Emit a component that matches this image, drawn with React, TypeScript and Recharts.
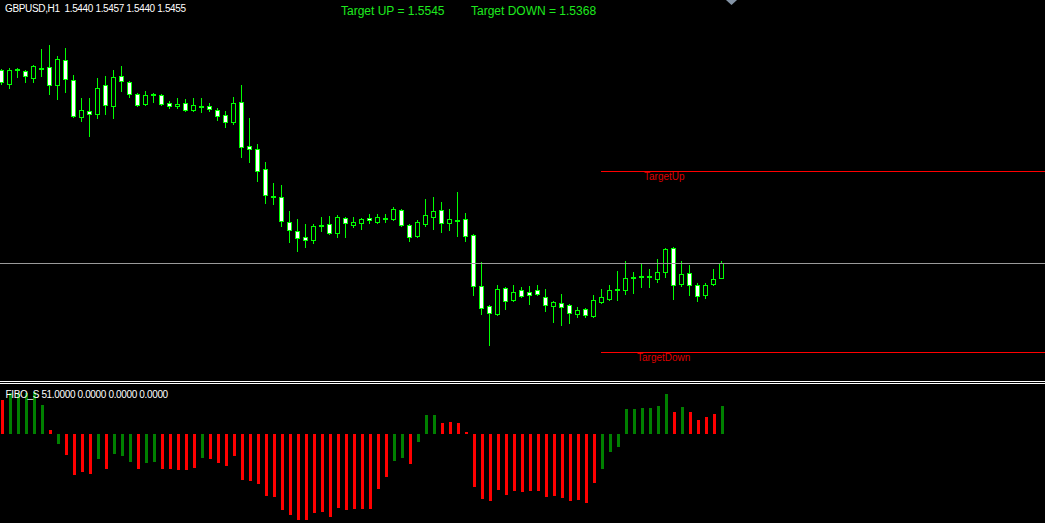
import React from 'react';
import { ComposedChart, Bar, XAxis, YAxis, ReferenceLine } from 'recharts';

// GBPUSD H1 candles, oldest first
const opens = [
  1.5643, 1.5630, 1.5643, 1.5642, 1.5635, 1.5644, 1.5646, 1.5629, 1.5653, 1.5633,
  1.5597, 1.5603, 1.5600, 1.5629, 1.5608, 1.5637, 1.5631, 1.5620, 1.5610, 1.5620,
  1.5619, 1.5611, 1.5608, 1.5611, 1.5604, 1.5607, 1.5608, 1.5604, 1.5599, 1.5592,
  1.5612, 1.5569, 1.5566, 1.5547, 1.5520, 1.5519, 1.5495, 1.5486, 1.5480, 1.5477,
  1.5492, 1.5493, 1.5484, 1.5499, 1.5492, 1.5494, 1.5499, 1.5495, 1.5498, 1.5498,
  1.5507, 1.5492, 1.5481, 1.5493, 1.5500, 1.5507, 1.5494, 1.5497, 1.5498, 1.5482,
  1.5432, 1.5413, 1.5405, 1.5430, 1.5419, 1.5428, 1.5427, 1.5428, 1.5422, 1.5413,
  1.5416, 1.5414, 1.5405, 1.5410, 1.5403, 1.5417, 1.5420, 1.5428, 1.5428, 1.5440,
  1.5441, 1.5442, 1.5439, 1.5446, 1.5469, 1.5434, 1.5445, 1.5433, 1.5424, 1.5434,
  1.5440,
];
const highs = [
  1.5644, 1.5645, 1.5645, 1.5643, 1.5648, 1.5664, 1.5668, 1.5657, 1.5665, 1.5638,
  1.5616, 1.5616, 1.5635, 1.5637, 1.5643, 1.5647, 1.5632, 1.5621, 1.5623, 1.5621,
  1.5620, 1.5613, 1.5616, 1.5615, 1.5616, 1.5616, 1.5611, 1.5606, 1.5603, 1.5617,
  1.5629, 1.5596, 1.5571, 1.5553, 1.5533, 1.5531, 1.5506, 1.5498, 1.5493, 1.5493,
  1.5500, 1.5501, 1.5502, 1.5500, 1.5500, 1.5499, 1.5503, 1.5503, 1.5503, 1.5509,
  1.5508, 1.5493, 1.5497, 1.5517, 1.5519, 1.5514, 1.5508, 1.5524, 1.5504, 1.5483,
  1.5456, 1.5414, 1.5433, 1.5431, 1.5433, 1.5431, 1.5432, 1.5433, 1.5429, 1.5418,
  1.5425, 1.5415, 1.5412, 1.5411, 1.5424, 1.5429, 1.5433, 1.5447, 1.5457, 1.5446,
  1.5454, 1.5449, 1.5459, 1.5469, 1.5470, 1.5457, 1.5453, 1.5435, 1.5435, 1.5449,
  1.5457,
];
const lows = [
  1.5630, 1.5626, 1.5636, 1.5631, 1.5631, 1.5637, 1.5620, 1.5615, 1.5622, 1.5597,
  1.5593, 1.5579, 1.5596, 1.5600, 1.5596, 1.5623, 1.5617, 1.5608, 1.5609, 1.5612,
  1.5609, 1.5606, 1.5606, 1.5603, 1.5603, 1.5602, 1.5603, 1.5594, 1.5588, 1.5590,
  1.5558, 1.5553, 1.5535, 1.5513, 1.5512, 1.5491, 1.5475, 1.5467, 1.5470, 1.5474,
  1.5486, 1.5483, 1.5480, 1.5480, 1.5490, 1.5488, 1.5494, 1.5494, 1.5495, 1.5497,
  1.5491, 1.5476, 1.5480, 1.5491, 1.5488, 1.5485, 1.5487, 1.5481, 1.5476, 1.5424,
  1.5405, 1.5375, 1.5404, 1.5410, 1.5418, 1.5422, 1.5415, 1.5424, 1.5408, 1.5397,
  1.5394, 1.5396, 1.5402, 1.5402, 1.5402, 1.5416, 1.5419, 1.5419, 1.5425, 1.5426,
  1.5431, 1.5431, 1.5436, 1.5441, 1.5420, 1.5432, 1.5424, 1.5418, 1.5421, 1.5433,
  1.5440,
];
const closes = [
  1.5631, 1.5643, 1.5644, 1.5637, 1.5647, 1.5645, 1.5629, 1.5654, 1.5634, 1.5598,
  1.5604, 1.5600, 1.5626, 1.5609, 1.5636, 1.5632, 1.5620, 1.5609, 1.5619, 1.5620,
  1.5610, 1.5608, 1.5610, 1.5604, 1.5609, 1.5608, 1.5605, 1.5598, 1.5592, 1.5611,
  1.5568, 1.5566, 1.5545, 1.5521, 1.5519, 1.5496, 1.5487, 1.5479, 1.5477, 1.5491,
  1.5491, 1.5484, 1.5500, 1.5494, 1.5495, 1.5498, 1.5497, 1.5500, 1.5499, 1.5508,
  1.5492, 1.5480, 1.5495, 1.5502, 1.5506, 1.5494, 1.5498, 1.5496, 1.5481, 1.5432,
  1.5411, 1.5406, 1.5429, 1.5418, 1.5427, 1.5423, 1.5424, 1.5425, 1.5414, 1.5417,
  1.5412, 1.5406, 1.5409, 1.5404, 1.5419, 1.5422, 1.5428, 1.5429, 1.5440, 1.5441,
  1.5442, 1.5441, 1.5446, 1.5468, 1.5433, 1.5444, 1.5433, 1.5423, 1.5433, 1.5439,
  1.5455,
];

// FIBO_S histogram, one value per candle; 1 = green buffer, 0 = red buffer
const fiboValues = [
  62, 75, 75, 75, 76, 53, 7, -18, -38, -75,
  -69, -73, -46, -64, -36, -40, -51, -64, -53, -51,
  -64, -64, -66, -66, -62, -44, -46, -53, -58, -40,
  -84, -86, -91, -113, -115, -138, -147, -157, -157, -144,
  -142, -151, -135, -138, -137, -137, -137, -100, -78, -49,
  -44, -55, -15, 35, 35, 20, 22, 20, 4, -96,
  -118, -122, -102, -111, -104, -106, -104, -104, -115, -113,
  -116, -122, -120, -126, -89, -64, -33, -24, 46, 46,
  47, 47, 51, 73, 40, 49, 40, 25, 31, 36,
  51,
];
const fiboUp = [
  0, 1, 1, 1, 1, 1, 0, 1, 0, 0,
  0, 0, 1, 0, 1, 1, 1, 0, 1, 1,
  0, 0, 0, 0, 0, 1, 0, 0, 0, 0,
  0, 0, 0, 0, 0, 0, 0, 0, 0, 0,
  0, 0, 0, 0, 0, 0, 0, 0, 0, 1,
  1, 0, 1, 1, 1, 0, 0, 0, 0, 0,
  0, 0, 0, 0, 0, 0, 0, 0, 0, 0,
  0, 0, 0, 0, 0, 1, 1, 1, 1, 1,
  1, 1, 1, 1, 0, 1, 0, 0, 0, 0,
  1,
];

const targetUp = 1.5545;
const targetDown = 1.5368;
const bidPrice = 1.5455;
const targetStart = 75;

const SLOTS = 132; // visible bars incl. empty space on the right
const SLOT_W = 8;
const GREEN = '#00ff00';

const candleData = Array.from({ length: SLOTS }, (_, i) =>
  i < opens.length
    ? { i, open: opens[i], high: highs[i], low: lows[i], close: closes[i], range: [lows[i], highs[i]] }
    : { i }
);
const fiboData = Array.from({ length: SLOTS }, (_, i) =>
  i < fiboValues.length ? { i, fibo: fiboValues[i], up: fiboUp[i] === 1 } : { i }
);

function Candle(props: any) {
  const { x, y, width, height, payload } = props;
  if (!payload || !payload.range || !height) return null;
  const { open, close, high, low } = payload;
  const span = high - low;
  const rowOf = (v: number) => Math.floor(y + ((high - v) / span) * height);
  const cx = Math.floor(x + width / 2) + 0.5;
  const hi = rowOf(high);
  const lo = rowOf(low);
  const top = rowOf(Math.max(open, close));
  const bot = rowOf(Math.min(open, close));
  const bull = close >= open;
  return (
    <g>
      <line x1={cx} x2={cx} y1={hi} y2={lo + 1} stroke={GREEN} strokeWidth={1} />
      <rect
        x={cx - 2}
        y={top + 0.5}
        width={4}
        height={Math.max(1, bot - top)}
        fill={bull ? '#000000' : '#ffffff'}
        stroke={GREEN}
        strokeWidth={1}
      />
    </g>
  );
}

function HistBar(props: any) {
  const { x, y, width, height, payload } = props;
  if (!payload || payload.fibo == null) return null;
  const top = Math.round(Math.min(y, y + height));
  const bot = Math.round(Math.max(y, y + height));
  const cx = Math.round(x + width / 2);
  return (
    <rect x={cx - 1} y={top} width={3} height={Math.max(1, bot - top)} fill={payload.up ? '#008000' : '#ff0000'} />
  );
}

function CrispLine(props: any) {
  const { x1, x2, y1, stroke } = props;
  const yy = Math.floor(y1) + 0.5;
  return <line x1={x1} x2={x2} y1={yy} y2={yy} stroke={stroke} strokeWidth={1} />;
}

const textFont = '"Liberation Sans", Arial, sans-serif';

export default function App() {
  return (
    <div
      style={{
        position: 'fixed',
        left: 0,
        top: 0,
        width: 1045,
        height: 523,
        background: '#000',
        overflow: 'hidden',
      }}
    >
      <div style={{ position: 'absolute', left: -3, top: 0 }}>
        <ComposedChart width={SLOTS * SLOT_W} height={381} data={candleData} margin={{ top: 0, right: 0, bottom: 0, left: 0 }}>
          <XAxis dataKey="i" hide />
          <YAxis domain={[1.534014, 1.5712]} hide allowDataOverflow />
          <ReferenceLine y={bidPrice} stroke="#9a9a9a" shape={CrispLine} />
          <ReferenceLine
            segment={[{ x: targetStart, y: targetUp }, { x: SLOTS - 1, y: targetUp }]}
            stroke="#ff0000"
            shape={CrispLine}
          />
          <ReferenceLine
            segment={[{ x: targetStart, y: targetDown }, { x: SLOTS - 1, y: targetDown }]}
            stroke="#ff0000"
            shape={CrispLine}
          />
          <Bar dataKey="range" barSize={5} shape={Candle} isAnimationActive={false} />
        </ComposedChart>
      </div>

      <div style={{ position: 'absolute', left: -3, top: 384 }}>
        <ComposedChart width={SLOTS * SLOT_W} height={139} data={fiboData} margin={{ top: 0, right: 0, bottom: 0, left: 0 }}>
          <XAxis dataKey="i" hide />
          <YAxis domain={[-162, 91]} hide allowDataOverflow />
          <Bar dataKey="fibo" barSize={3} shape={HistBar} isAnimationActive={false} />
        </ComposedChart>
      </div>

      <svg
        width={1045}
        height={523}
        style={{ position: 'absolute', left: 0, top: 0, pointerEvents: 'none' }}
      >
        <rect x={0} y={381} width={1045} height={1} fill="#ffffff" />
        <rect x={0} y={383} width={1045} height={1} fill="#ffffff" />
        <polygon points="726,0 737,0 731.5,5" fill="#8494a6" />
        <text x={5} y={12} fill="#ffffff" fontFamily={textFont} fontSize={10} letterSpacing={-0.35} style={{ whiteSpace: 'pre' }}>
          {'GBPUSD,H1  1.5440 1.5457 1.5440 1.5455'}
        </text>
        <text x={341} y={14.5} fill="#1eea1e" fontFamily={textFont} fontSize={12}>
          Target UP = 1.5545
        </text>
        <text x={471} y={14.5} fill="#1eea1e" fontFamily={textFont} fontSize={12}>
          Target DOWN = 1.5368
        </text>
        <text x={644} y={180} fill="#dd0000" fontFamily={textFont} fontSize={10}>
          TargetUp
        </text>
        <text x={637} y={360.5} fill="#dd0000" fontFamily={textFont} fontSize={10}>
          TargetDown
        </text>
        <text x={5.5} y={397.5} fill="#ffffff" fontFamily={textFont} fontSize={10} letterSpacing={-0.35} style={{ whiteSpace: 'pre' }}>
          {'FIBO_S 51.0000 0.0000 0.0000 0.0000'}
        </text>
      </svg>
    </div>
  );
}
